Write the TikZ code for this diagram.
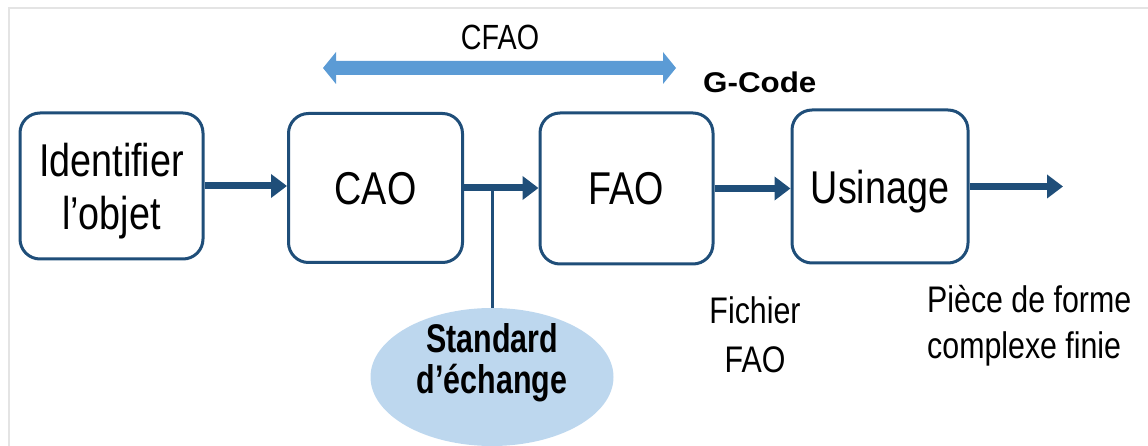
\documentclass[tikz,border=0pt]{standalone}
\usepackage{fontspec}
\setmainfont{Liberation Sans}
\newfontfamily\condfont[FakeStretch=0.82]{Liberation Sans}
\newfontfamily\condbold[FakeStretch=0.76]{Liberation Sans Bold}
\newfontfamily\widebold[FakeStretch=1.1]{Liberation Sans Bold}
\usetikzlibrary{arrows.meta,shapes.geometric}

\definecolor{boxblue}{RGB}{31,78,121}
\definecolor{spanblue}{RGB}{91,155,213}
\definecolor{ellfill}{RGB}{189,215,238}
\definecolor{framegray}{RGB}{228,228,228}

\tikzset{
  stage/.style={draw=boxblue, line width=3pt, rounded corners=20pt, fill=white,
    align=center, inner sep=0pt, text depth=0pt,
    font=\condfont\fontsize{46}{53}\selectfont},
  flow/.style={draw=boxblue, line width=7pt,
    -{Triangle[length=16pt,width=23pt]}},
  tap/.style={draw=boxblue, line width=3pt},
  note/.style={inner sep=0pt, font=\condfont\fontsize{37}{49}\selectfont},
}

\begin{document}
\begin{tikzpicture}[x=1pt,y=-1pt]
  \useasboundingbox (0,0) rectangle (1148,446);

  % thin outer frame (top and left edges)
  \draw[framegray, line width=2pt] (9,446) -- (9,8.5) -- (1148,8.5);

  % process stages
  \node[stage, minimum width=183pt, minimum height=146pt] (idt) at (111.5,186) {Identifier\\l’objet};
  \node[stage, minimum width=174pt, minimum height=149pt] (cao) at (375.5,188) {CAO};
  \node[stage, minimum width=173pt, minimum height=151pt] (fao) at (626.5,188.5) {FAO};
  \node[stage, minimum width=176pt, minimum height=153pt] (usi) at (880,186.5) {Usinage};

  % exchange standard
  \node[ellipse, fill=ellfill, minimum width=243pt, minimum height=138pt, inner sep=0pt] (std) at (492,377) {};
  \node[inner sep=0pt, align=center, anchor=base, font=\condbold\fontsize{40}{41}\selectfont]
        (stdlabel) at (492,393) {Standard\\d’échange};

  % flow arrows
  \draw[flow] (idt.east) -- (idt.east -| cao.west);
  \draw[flow] (cao.east) -- (cao.east -| fao.west);
  \draw[flow] (fao.east) -- (fao.east -| usi.west);
  \coordinate (out) at (1063,187);
  \draw[flow] (usi.east) -- (usi.east -| out);

  % branch towards the exchange standard
  \coordinate (tapc) at (492,189);
  \draw[tap] (tapc) -- (std.north);

  % CFAO span arrow
  \fill[spanblue] (323,68) -- (336,52) -- (336,61) -- (663,61) -- (663,52)
        -- (676,68) -- (663,84) -- (663,75) -- (336,75) -- (336,84) -- cycle;
  \node[note, font=\condfont\fontsize{35}{40}\selectfont, anchor=base] (cfao) at (500,50) {CFAO};

  % labels
  \node[inner sep=0pt, anchor=base west, font=\widebold\fontsize{28.5}{32}\selectfont] (gcode) at (703,93) {G-Code};
  \node[note, align=center, anchor=base] (fich) at (755,372) {Fichier\\FAO};
  \node[note, font=\condfont\fontsize{37}{46}\selectfont, align=left, anchor=base west]
        (piece) at (927,358) {Pièce de forme\\complexe finie};
\end{tikzpicture}
\end{document}
